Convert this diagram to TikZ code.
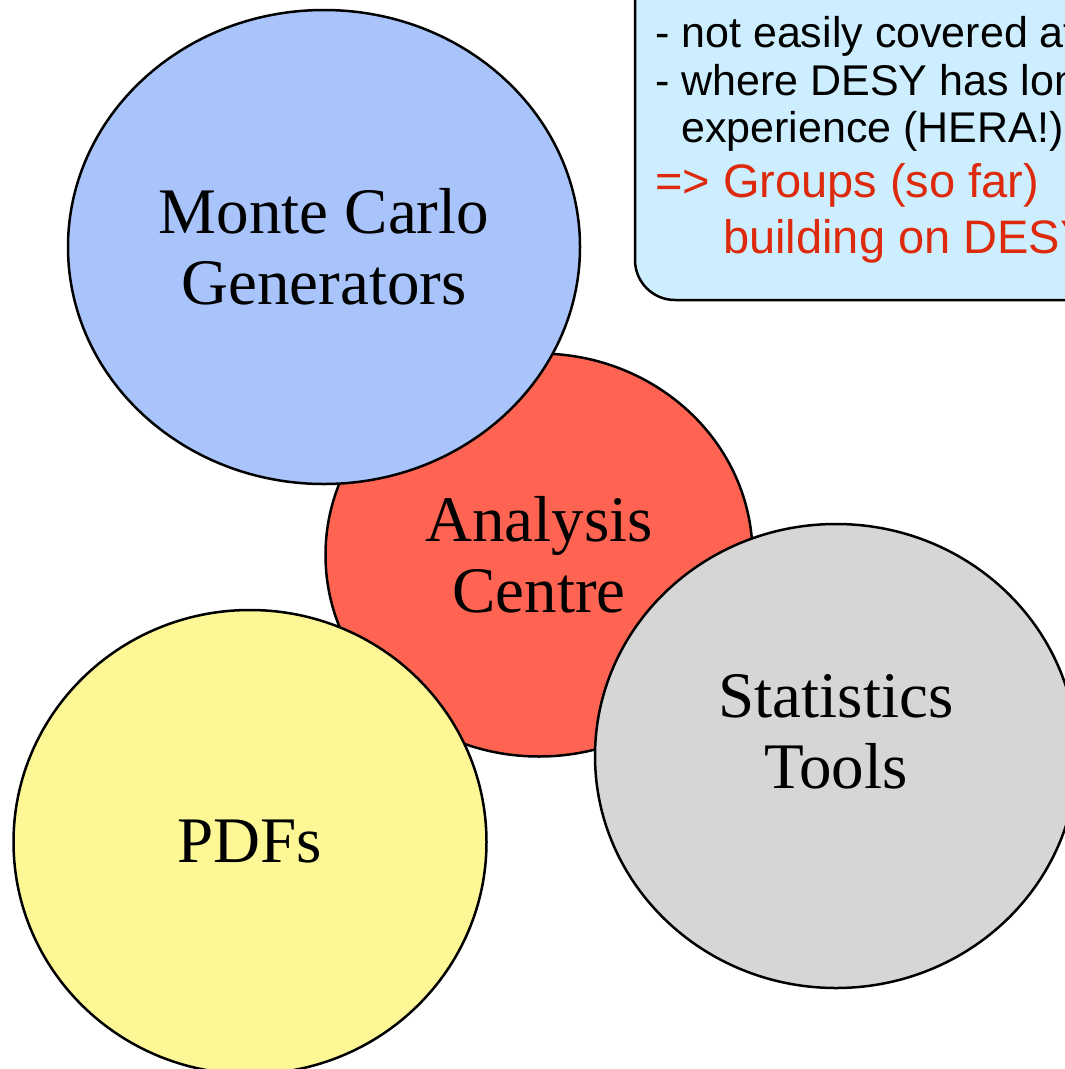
\documentclass[tikz,border=0pt]{standalone}
\usepackage{fontspec}
\setmainfont{Liberation Serif}
\newfontfamily\notefont{Liberation Sans}
\usetikzlibrary{shapes.geometric}

\definecolor{mcblue}{RGB}{168,196,250}
\definecolor{anared}{RGB}{255,100,82}
\definecolor{pdfyellow}{RGB}{253,247,149}
\definecolor{statgrey}{RGB}{214,214,214}
\definecolor{notecyan}{RGB}{204,238,255}
\definecolor{notered}{RGB}{222,42,12}

\begin{document}
\begin{tikzpicture}[x=1pt,y=-1pt,
    bubble/.style={ellipse, draw, line width=2.5pt, inner sep=0pt, align=center, font=\fontsize{65}{71}\selectfont},
    bubbletext/.style={inner sep=0pt, align=center, font=\fontsize{65}{71}\selectfont},
    note/.style={anchor=base west, inner sep=0pt, font=\notefont\fontsize{43}{47}\selectfont},
    notehi/.style={note, text=notered, font=\notefont\fontsize{47}{52}\selectfont}]
    \useasboundingbox (0,0) rectangle (1065,1069);

    % info box, cut off by the page edge
    \draw[line width=2.5pt, fill=notecyan, rounded corners=40pt] (635,-80) rectangle (1200,300);
    \node[note] (covered) at (655,47)  {- not easily covered at};
    \node[note] (desy)    at (655,95)  {- where DESY has long};
    \node[note] (hera)    at (681,142) {experience (HERA!)};
    \node[notehi] (groups) at (655,197) {=> Groups (so far)};
    \node[notehi] (build)  at (723,253) {building on DESY};

    % the four fields
    \node[bubble, fill=anared, minimum width=427pt, minimum height=403pt] (ana) at (539,555) {Analysis\\Centre};
    \node[bubble, fill=mcblue, minimum width=512pt, minimum height=474pt] (mc) at (324,247) {Monte Carlo\\Generators};
    \node[bubble, fill=pdfyellow, minimum width=473pt, minimum height=464pt] (pdf) at (250,842) {PDFs};
    \node[bubble, fill=statgrey, minimum width=482pt, minimum height=464pt] (stat) at (836,756) {};
    \node[bubbletext] (stattext) at ([yshift=24pt]stat.center) {Statistics\\Tools};
\end{tikzpicture}
\end{document}
